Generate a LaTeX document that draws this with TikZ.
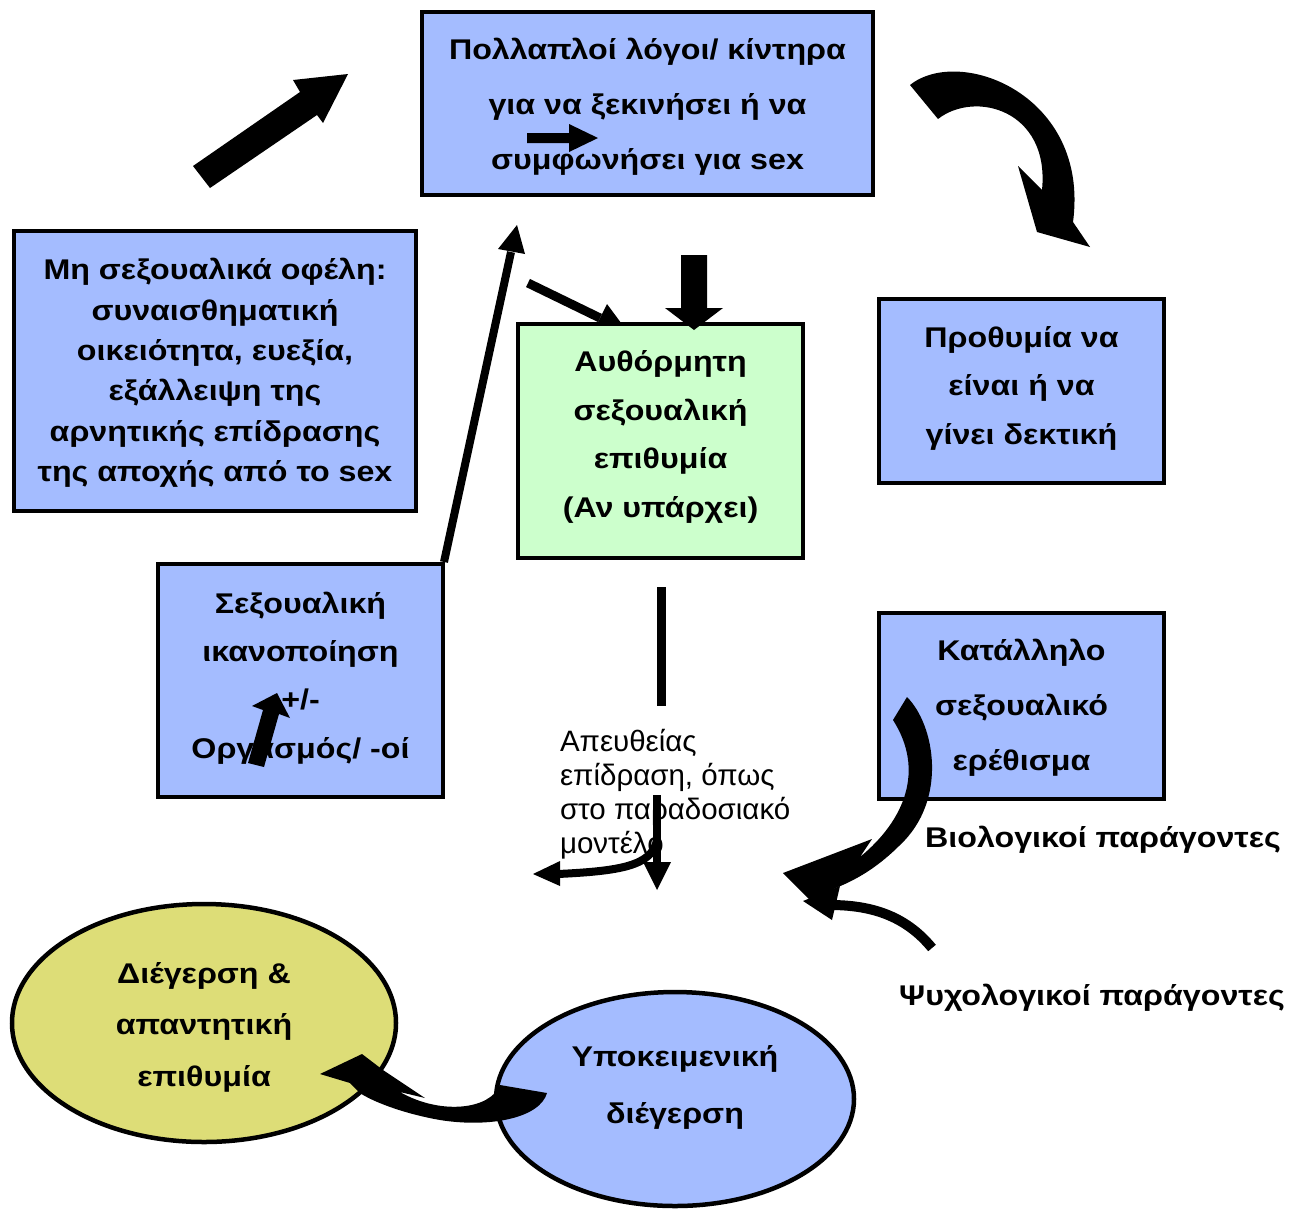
\documentclass[tikz,border=0pt]{standalone}
\usepackage{fontspec}
\setmainfont{Liberation Sans}
\newfontfamily\bst[FakeStretch=1.13]{Liberation Sans}
\usetikzlibrary{shapes.geometric}
\definecolor{boxblue}{RGB}{164,188,255}
\definecolor{boxgreen}{RGB}{204,255,204}
\definecolor{boxyellow}{RGB}{221,221,119}
\begin{document}
\begin{tikzpicture}[x=1pt,y=-1pt,
  every node/.style={inner sep=0pt,outer sep=0pt},
  boxbase/.style={draw=black,line width=4.5pt,align=center},
  bluebox/.style={boxbase,fill=boxblue},
  greenbox/.style={boxbase,fill=boxgreen},
  oval/.style={ellipse,draw=black,line width=4.5pt},
  bt/.style={font=\bst\bfseries\fontsize{28.5}{#1}\selectfont},
  plain/.style={align=left,font=\fontsize{29.5}{34}\selectfont},
  blk/.style={fill=black,draw=none},
  linearr/.style={draw=black,line width=#1}
]
\useasboundingbox (0,0) rectangle (1303,1208);

% arrows hidden behind boxes
\coordinate (d1s) at (528,283);
\coordinate (d1e) at (600,318);
\draw[linearr=9pt] (d1s) -- (d1e);
\fill[blk] (593,332) -- (607,304) -- (627,331) -- cycle;

% boxes
\node[bluebox,minimum width=451pt,minimum height=183pt] (top) at (647.5,103.5) {};
\node[bt=55,align=center] (toptxt) at (647.5,106.5)
  {Πολλαπλοί λόγοι/ κίντηρα\\για να ξεκινήσει ή να\\συμφωνήσει για sex};
\node[bluebox,minimum width=402pt,minimum height=280pt] (benef) at (215,371) {};
\node[bt=40.4,align=center] (beneftxt) at (215,373)
  {Μη σεξουαλικά οφέλη:\\συναισθηματική\\οικειότητα, ευεξία,\\εξάλλειψη της\\αρνητικής επίδρασης\\της αποχής από το sex};
\node[greenbox,minimum width=285pt,minimum height=234pt] (desire) at (660.5,441) {};
\node[bt=48.7,align=center] (desiretxt) at (660.5,437)
  {Αυθόρμητη\\σεξουαλική\\επιθυμία\\(Αν υπάρχει)};
\node[bluebox,minimum width=285pt,minimum height=184pt] (will) at (1021.5,391) {};
\node[bt=48.5,align=center] (willtxt) at (1021.5,388)
  {Προθυμία να\\είναι ή να\\γίνει δεκτική};
\node[bluebox,minimum width=285pt,minimum height=233pt] (satis) at (300.5,680.5) {};
\node[bt=48.3,align=center] (satistxt) at (300.5,678)
  {Σεξουαλική\\ικανοποίηση\\+/-\\Οργασμός/ -οί};
\node[bluebox,minimum width=285pt,minimum height=186pt] (stim) at (1021.5,706) {};
\node[bt=55,align=center] (stimtxt) at (1021.5,708)
  {Κατάλληλο\\σεξουαλικό\\ερέθισμα};

% ellipses
\node[oval,fill=boxyellow,minimum width=384pt,minimum height=238pt] (arousal) at (204,1023) {};
\node[bt=51.5,align=center] (arousaltxt) at (204,1027) {Διέγερση \&\\απαντητική\\επιθυμία};
\node[oval,fill=boxblue,minimum width=358pt,minimum height=214pt] (subj) at (675,1099) {};
\node[bt=57,align=center] (subjtxt) at (675,1087) {Υποκειμενική\\διέγερση};

% free texts
\node[plain,anchor=west] (direct) at (560,794) {Απευθείας\\επίδραση, όπως\\στο παραδοσιακό\\μοντέλο};
\node[bt=30] (bio) at (1103,840) {Βιολογικοί παράγοντες};
\node[bt=30] (psy) at (1092,998) {Ψυχολογικοί παράγοντες};

% top-left block arrow
\fill[blk] (193,166) -- (300,92) -- (293,80) -- (348,74) -- (323,123) -- (317,115) -- (210,188) -- cycle;

% top-right curved block arrow
\fill[blk] (910,85) .. controls (960,45) and (1090,95) .. (1073,222) -- (1090,247) -- (1037,232) -- (1018,166)
  -- (1042,190) .. controls (1050,110) and (975,90) .. (938,119) -- cycle;

% small arrow inside top box
\fill[blk] (527,133) -- (569,133) -- (569,124) -- (598,138) -- (569,152) -- (569,143) -- (527,143) -- cycle;

% thick down arrow into desire box
\fill[blk] (681,255) -- (707,255) -- (707,308) -- (723,308) -- (694,330) -- (665,308) -- (681,308) -- cycle;

% long arrow from satisfaction to top box
\coordinate (l1s) at (444,562);
\coordinate (l1e) at (511,252);
\draw[linearr=8pt] (l1s) -- (l1e);
\fill[blk] (517,225) -- (525,254) -- (498,249) -- cycle;

% small block arrow inside satisfaction box
\fill[blk] (248,763) -- (264,767) -- (279,714) -- (290,718) -- (277,693) -- (252,706) -- (263,710) -- cycle;

% vertical line below desire box
\coordinate (v1s) at (661,587);
\coordinate (v1e) at (661,706);
\draw[linearr=9pt] (v1s) -- (v1e);

% direct effect arrows
\coordinate (v2s) at (657,795);
\coordinate (v2e) at (657,864);
\draw[linearr=8pt] (v2s) -- (v2e);
\fill[blk] (643,862) -- (671,862) -- (657,890) -- cycle;
\draw[linearr=8pt] (657,840) .. controls (652,866) and (620,871) .. (558,874);
\fill[blk] (533,874) -- (560,861) -- (560,886) -- cycle;

% biological factors curved arrow
\fill[blk] (893,720) -- (907,697) .. controls (935,725) and (948,800) .. (900,845)
  .. controls (880,865) and (860,878) .. (838,887) -- (810,900) -- (783,873) -- (872,839) -- (860,857)
  .. controls (905,820) and (925,770) .. (893,720) -- cycle;

% psychological factors curved arrow
\draw[linearr=10pt] (932,948) .. controls (905,915) and (870,905) .. (830,905);
\fill[blk] (803,901) -- (840,886) -- (832,920) -- cycle;

% bottom curved arrow between ellipses
\fill[blk] (320,1074) -- (362,1054) -- (383,1070) -- (425,1098) -- (400,1092)
  .. controls (440,1115) and (490,1110) .. (500,1085) -- (547,1093)
  .. controls (540,1118) and (490,1128) .. (440,1120)
  .. controls (400,1113) and (370,1100) .. (360,1093) -- (350,1083) -- cycle;
\end{tikzpicture}
\end{document}
